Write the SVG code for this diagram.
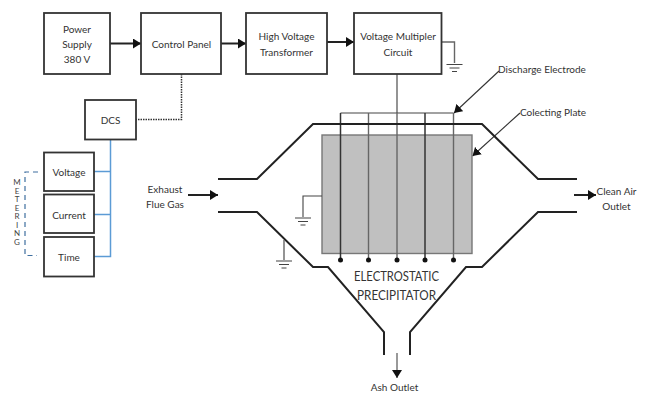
<svg xmlns="http://www.w3.org/2000/svg" width="645" height="394" viewBox="0 0 645 394">
<style>
text{font-family:"Lato","Open Sans","Liberation Sans",sans-serif;font-size:10px;fill:#333;text-anchor:middle}
.box{fill:#fff;stroke:#333;stroke-width:1.800}
.k{fill:none;stroke:#222;stroke-width:2}
.lead{fill:none;stroke:#333;stroke-width:1.100}
.gr{fill:none;stroke:#666;stroke-width:1.400}
.dk{fill:none;stroke:#333;stroke-width:1.500}
.blue{fill:none;stroke:#5b9bd5;stroke-width:1.500}
.gnd{fill:none;stroke:#444;stroke-width:1.100}
.m{font-size:8px;fill:#444}
.big{font-size:14px}
</style>
<defs>
<marker id="a" markerUnits="userSpaceOnUse" markerWidth="9" markerHeight="10" refX="8" refY="5" orient="auto"><path d="M0,0L8,5L0,10Z" fill="#111"/></marker>
<g id="ground"><path class="gnd" d="M-8,0H8M-5,3.500H5M-2.500,7H2.500"/></g>
</defs>
<rect width="645" height="394" fill="#fff"/>
<g id="connectors">
<path class="k" d="M110,43.500H141" marker-end="url(#a)"/>
<path class="k" d="M221,43.500H246" marker-end="url(#a)"/>
<path class="k" d="M327,42H354" marker-end="url(#a)"/>
<path class="gr" d="M441.500,42H454.500V63"/>
<use href="#ground" x="454.500" y="64.500"/>
<path d="M181.500,74V119.500H136" fill="none" stroke="#333" stroke-width="1.500" stroke-dasharray="1.500 1"/>
<path class="blue" d="M110.500,140V256.500H94M94,171.500H110.500M94,214.500H110.500"/>
<path d="M38,172H25V255.500H37" fill="none" stroke="#3f6f9f" stroke-width="1.200" stroke-dasharray="5 4"/>
<path class="gr" d="M397,74V113"/>
<path class="lead" d="M499,71L454,113" marker-end="url(#a)"/>
<path class="lead" d="M520,113L472.500,156" marker-end="url(#a)"/>
<path class="k" d="M188,195H218" marker-end="url(#a)"/>
<path class="k" d="M574,195H596" marker-end="url(#a)"/>
<path d="M397,353V378" fill="none" stroke="#555" stroke-width="1.200" marker-end="url(#a)"/>
</g>
<g id="power-supply"><rect class="box" x="44" y="13" width="66" height="61"/><text x="77" y="33">Power</text><text x="77" y="48">Supply</text><text x="77" y="63">380 V</text></g>
<g id="control-panel"><rect class="box" x="141" y="13" width="80" height="61"/><text x="181.500" y="48">Control Panel</text></g>
<g id="hv-transformer"><rect class="box" x="246" y="13" width="81" height="61"/><text x="286.500" y="40">High Voltage</text><text x="286.500" y="56">Transformer</text></g>
<g id="voltage-multiplier"><rect class="box" x="354" y="13" width="87.500" height="61"/><text x="398" y="40">Voltage Multipler</text><text x="398" y="56">Circuit</text></g>
<g id="dcs"><rect class="box" x="85" y="100" width="51" height="39.500"/><text x="110.500" y="124">DCS</text></g>
<g id="voltage"><rect class="box" x="44" y="152.500" width="50" height="38.500"/><text x="69" y="176">Voltage</text></g>
<g id="current"><rect class="box" x="44" y="194.500" width="50" height="38.500"/><text x="69" y="219">Current</text></g>
<g id="time"><rect class="box" x="44" y="237" width="50" height="39.500"/><text x="69" y="261">Time</text></g>
<g id="metering"><text class="m" x="17" y="185">M</text><text class="m" x="17" y="193.500">E</text><text class="m" x="17" y="202">T</text><text class="m" x="17" y="210.500">E</text><text class="m" x="17" y="219">R</text><text class="m" x="17" y="227.500">I</text><text class="m" x="17" y="236">N</text><text class="m" x="17" y="245">G</text></g>
<g id="precipitator">
<rect x="322" y="135" width="150" height="118.500" fill="#c0c0c0" stroke="#777" stroke-width="1.400"/>
<path class="gr" style="stroke-width:1.100;stroke:#444" d="M340.500,113H453.500"/>
<path class="dk" d="M340.500,113V260M425,113V260"/>
<path class="gr" d="M368.500,113V260M397,113V260M453.500,113V260"/>
<g fill="#111"><circle cx="340.500" cy="260" r="2.500"/><circle cx="368.500" cy="260" r="2.500"/><circle cx="397" cy="260" r="2.500"/><circle cx="425" cy="260" r="2.500"/><circle cx="453.500" cy="260" r="2.500"/></g>
<path class="k" d="M218,179H257L313,124H482L538,179H577"/>
<path class="k" d="M218,212H257L313,267H328L384,332V355"/>
<path class="k" d="M410,355V332L466,267H482L538,212H577"/>
<path class="gnd" d="M322,196H303V217"/><use href="#ground" x="303" y="218"/>
<path class="gr" d="M284,240V260"/><use href="#ground" x="284" y="261"/>
<text class="big" x="396.500" y="281" textLength="85" lengthAdjust="spacingAndGlyphs">ELECTROSTATIC</text><text class="big" x="396.500" y="300" textLength="79" lengthAdjust="spacingAndGlyphs">PRECIPITATOR</text>
</g>
<g id="labels">
<text x="165" y="193">Exhaust</text><text x="165" y="208">Flue Gas</text>
<text x="542" y="73">Discharge Electrode</text>
<text x="553" y="116">Colecting Plate</text>
<text x="616.500" y="195">Clean Air</text><text x="616.500" y="210">Outlet</text>
<text x="394.500" y="391">Ash Outlet</text>
</g>
</svg>
